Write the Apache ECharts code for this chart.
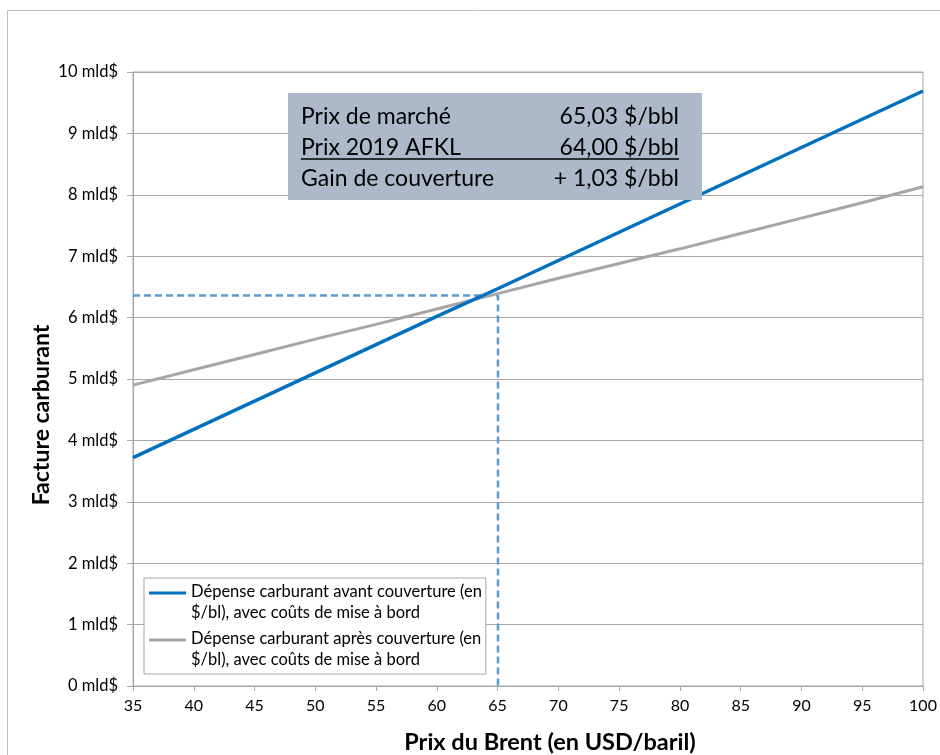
<!DOCTYPE html>
<html>
<head>
<meta charset="utf-8">
<script src="https://cdn.jsdelivr.net/npm/echarts@6/dist/echarts.min.js"></script>
<style>
html,body{margin:0;padding:0;background:#fff;}
#chart{width:940px;height:755px;}
</style>
</head>
<body>
<div id="chart"></div>
<script>
// ---- data ----
var brentPrices = [35, 40, 45, 50, 55, 60, 65, 70, 75, 80, 85, 90, 95, 100];
var avantCouverture = [3.72, 4.18, 4.64, 5.10, 5.56, 6.02, 6.47, 6.93, 7.39, 7.85, 8.31, 8.77, 9.23, 9.69];
var apresCouverture = [4.90, 5.15, 5.40, 5.65, 5.89, 6.14, 6.39, 6.64, 6.88, 7.12, 7.37, 7.62, 7.87, 8.13];
var seriesNames = [
  'Dépense carburant avant couverture (en\n$/bl), avec coûts de mise à bord',
  'Dépense carburant après couverture (en\n$/bl), avec coûts de mise à bord'
];
var marketPrice = 65.03;
var marketBill = 6.36;
var xMin = 35, xMax = 100;
var boxRows = [
  ['Prix de marché', '65,03 $/bbl'],
  ['Prix 2019 AFKL', '64,00 $/bbl'],
  ['Gain de couverture', '+ 1,03 $/bbl']
];
var yAxisTitle = 'Facture carburant';
var xAxisTitle = 'Prix du Brent (en USD/baril)';

function pairs(xs, ys) { return xs.map(function (x, i) { return [x, ys[i]]; }); }

var FONT = 'Lato, "Open Sans", sans-serif';
var chart = echarts.init(document.getElementById('chart'), null, {renderer: 'canvas'});

var boxGraphics = [];
boxRows.forEach(function (r, i) {
  var cy = 117 + i * 31;
  boxGraphics.push({type: 'text', x: 301, y: cy, z: 101,
    style: {text: r[0], font: '23px ' + FONT, fill: '#000', align: 'left', verticalAlign: 'middle'}});
  boxGraphics.push({type: 'text', x: 679, y: cy, z: 101,
    style: {text: r[1], font: '23px ' + FONT, fill: '#000', align: 'right', verticalAlign: 'middle'}});
});

var option = {
  animation: false,
  backgroundColor: '#fff',
  grid: {left: 133, right: 17, top: 72, bottom: 69, show: true, borderColor: '#A6A6A6', borderWidth: 1,
    containLabel: false, outerBoundsMode: 'none'},
  xAxis: {
    type: 'value', min: xMin, max: xMax, interval: 5,
    axisLine: {show: true, lineStyle: {color: '#A6A6A6'}},
    axisTick: {show: true, length: 5, lineStyle: {color: '#A6A6A6'}},
    axisLabel: {color: '#000', fontSize: 16, fontFamily: FONT, margin: 12},
    splitLine: {show: false}
  },
  yAxis: {
    type: 'value', min: 0, max: 10, interval: 1,
    axisLine: {show: true, lineStyle: {color: '#A6A6A6'}},
    axisTick: {show: true, length: 6, lineStyle: {color: '#A6A6A6'}},
    axisLabel: {color: '#000', fontSize: 16.5, fontFamily: FONT, margin: 15, formatter: '{value} mld$'},
    splitLine: {show: true, lineStyle: {color: '#A6A6A6', width: 1}}
  },
  legend: {
    left: 144, top: 578, orient: 'vertical',
    data: seriesNames,
    backgroundColor: '#fff', borderColor: '#A6A6A6', borderWidth: 1,
    padding: [3, 4, 4, 5], itemGap: 5,
    itemWidth: 37, itemHeight: 21,
    icon: 'path://M0,0L37,0L37,3L0,3Z M0,21L0.01,21L0.01,21.01Z',
    textStyle: {fontSize: 16.5, fontFamily: FONT, color: '#000', lineHeight: 21}
  },
  graphic: [
    {type: 'rect', left: 5, top: 8, z: -1, silent: true,
      shape: {width: 960, height: 780}, style: {fill: 'none', stroke: '#BFBFBF', lineWidth: 1}},
    {type: 'text', x: 42, y: 415, rotation: Math.PI / 2, z: 100,
      style: {text: yAxisTitle, font: 'bold 23px ' + FONT, fill: '#000', align: 'center', verticalAlign: 'middle'}},
    {type: 'text', x: 550, y: 742, z: 100,
      style: {text: xAxisTitle, font: 'bold 23.5px ' + FONT, fill: '#000', align: 'center', verticalAlign: 'middle'}},
    {type: 'rect', left: 288, top: 93, z: 100,
      shape: {width: 414, height: 107}, style: {fill: '#ADB9CA'}},
    {type: 'line', z: 101, shape: {x1: 301, y1: 159, x2: 679, y2: 159}, style: {stroke: '#000', lineWidth: 1.5}}
  ].concat(boxGraphics),
  series: [
    {type: 'line', name: 'marker', data: [[xMin, marketBill], [marketPrice, marketBill], [marketPrice, 0]],
      showSymbol: false, symbol: 'none', z: 1, silent: true,
      lineStyle: {color: '#5B9BD5', width: 2.5, type: [7, 4]}},
    {type: 'line', name: seriesNames[1], data: pairs(brentPrices, apresCouverture),
      showSymbol: false, symbol: 'none', z: 2, color: '#A6A6A6',
      lineStyle: {color: '#A6A6A6', width: 3}},
    {type: 'line', name: seriesNames[0], data: pairs(brentPrices, avantCouverture),
      showSymbol: false, symbol: 'none', z: 3, color: '#0070C0',
      lineStyle: {color: '#0070C0', width: 3.5}}
  ]
};
chart.setOption(option);
</script>
</body>
</html>
